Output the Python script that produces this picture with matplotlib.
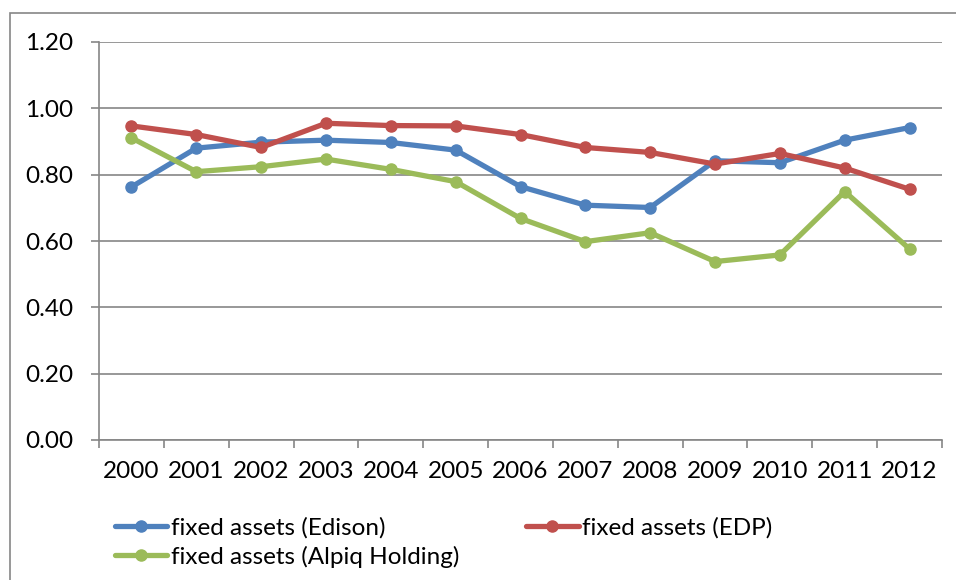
import matplotlib
matplotlib.use("Agg")
import matplotlib.pyplot as plt
from matplotlib.patches import Rectangle

years = ["2000", "2001", "2002", "2003", "2004", "2005", "2006",
         "2007", "2008", "2009", "2010", "2011", "2012"]
edison = [0.763, 0.880, 0.898, 0.904, 0.897, 0.874, 0.764,
          0.708, 0.701, 0.842, 0.836, 0.904, 0.942]
edp = [0.947, 0.921, 0.882, 0.955, 0.948, 0.947, 0.921,
       0.882, 0.867, 0.832, 0.864, 0.820, 0.756]
alpiq = [0.911, 0.809, 0.824, 0.847, 0.816, 0.779, 0.668,
         0.598, 0.625, 0.538, 0.558, 0.749, 0.576]
yticks = [0.0, 0.2, 0.4, 0.6, 0.8, 1.0, 1.2]

plt.rcParams['font.family'] = ['Lato', 'DejaVu Sans']
grey = "#868686"
fs = 17.5

fig = plt.figure(figsize=(9.56, 5.8), dpi=100)
ax = fig.add_axes([99/956, 1-440/580, 843/956, 398/580])

# outer chart border (cut off at right and bottom like the reference)
fig.patches.append(Rectangle((10/956, -0.1), 1.2, 0.1+1-13/580,
                             transform=fig.transFigure, fill=False,
                             edgecolor=grey, linewidth=1.2))

x = list(range(len(years)))
l1, = ax.plot(x, edison, color="#4F81BD", lw=3.8, marker="o", ms=8,
              label="fixed assets (Edison)", solid_capstyle="round")
l2, = ax.plot(x, edp, color="#C0504D", lw=3.8, marker="o", ms=8,
              label="fixed assets (EDP)", solid_capstyle="round")
l3, = ax.plot(x, alpiq, color="#9BBB59", lw=3.8, marker="o", ms=8,
              label="fixed assets (Alpiq Holding)", solid_capstyle="round")

ax.set_xlim(-0.5, len(years)-0.5)
ax.set_ylim(0, 1.2)
ax.set_yticks(yticks)
ax.set_yticklabels([f"{v:.2f}" for v in yticks])
ax.yaxis.grid(True, color=grey, lw=1.2)
ax.set_axisbelow(True)

ax.set_xticks([i-0.5 for i in range(len(years)+1)])
ax.set_xticklabels([])
ax.set_xticks(x, minor=True)
ax.set_xticklabels(years, minor=True)
ax.tick_params(axis="x", which="major", length=5.8, color=grey, width=1.2)
ax.tick_params(axis="x", which="minor", length=0, pad=15, labelsize=fs)
ax.tick_params(axis="y", length=5.8, color=grey, width=1.2, pad=13, labelsize=fs)

for s in ["top", "right"]:
    ax.spines[s].set_visible(False)
ax.spines["left"].set_color(grey)
ax.spines["bottom"].set_color(grey)
ax.spines["left"].set_linewidth(1.2)
ax.spines["bottom"].set_linewidth(1.2)

fig.legend([l1, l3, l2], [l1.get_label(), l3.get_label(), l2.get_label()],
           ncol=2, loc="upper left", bbox_to_anchor=(103/956, 1-505/580),
           frameon=False, fontsize=fs, handlelength=2.15, handletextpad=0.15,
           labelspacing=0.28, columnspacing=2.75, borderpad=0)

fig.savefig("out.png", dpi=100)
